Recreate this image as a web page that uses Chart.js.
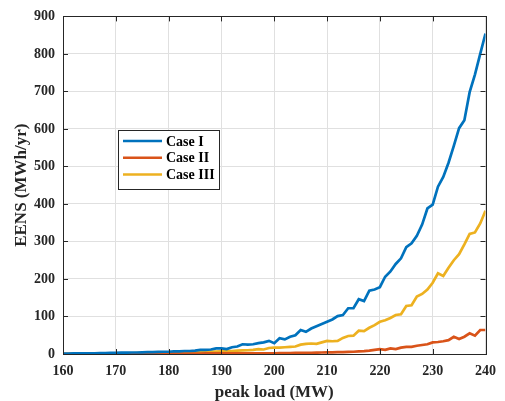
<!DOCTYPE html>
<html>
<head>
<meta charset="utf-8">
<script src="https://cdn.jsdelivr.net/npm/chart.js@4.4.1/dist/chart.umd.min.js"></script>
<style>
html,body{margin:0;padding:0;background:#fff;}
#wrap{width:505px;height:401px;position:relative;}
</style>
</head>
<body>
<div id="wrap"><canvas id="c" width="505" height="401"></canvas></div>
<script>
const peakLoad = [160,161,162,163,164,165,166,167,168,169,170,171,172,173,174,175,176,177,178,179,180,181,182,183,184,185,186,187,188,189,190,191,192,193,194,195,196,197,198,199,200,201,202,203,204,205,206,207,208,209,210,211,212,213,214,215,216,217,218,219,220,221,222,223,224,225,226,227,228,229,230,231,232,233,234,235,236,237,238,239,240];
const caseI = [1,1,1.5,1.5,2,2,2,2.5,2.5,3,3,3.5,3.5,4,4,4.5,5,5,5.5,6,6,7,7,8,8,9,11,11,12,15,15,13,18,20,26,25,26,29,31,35,29,42,39,46,50,64,59,68,74,80,86,92,101,104,122,122,146,141,169,172,178,206,220,240,255,285,295,315,345,388,398,446,472,510,555,602,623,698,745,800,854];
const caseII = [0,0,0,0,0,0.2,0.2,0.3,0.3,0.4,0.5,0.5,0.6,0.6,0.7,0.7,0.8,0.8,0.9,0.9,1,1,1.1,1.2,1.2,1.3,1.3,1.4,1.5,1.5,1.5,1.6,1.7,1.8,1.8,1.9,2,2,2,2,2,2.2,2.4,2.6,2.8,3,3,3.2,3.5,4,4.5,4.5,5,5,5.5,6,7,7.5,9,11,13,11,15,13,17,19,19,22,24,26,31,32,34,37,46,40,46,55,49,64,64];
const caseIII = [0.5,0.5,0.6,0.7,0.8,1,1,1.1,1.2,1.4,1.5,1.7,1.9,2,2.2,2.5,2.7,3,3.3,3.6,4,4.2,4.4,4.6,4.8,5,5.4,5.8,6.2,6.6,7,7.5,8,9,9.5,10,11,13,12,16,17,17,18,19,20,25,27,28,27,31,35,34,35,43,48,49,62,61,70,77,86,90,96,104,106,128,130,153,160,172,190,215,208,230,250,266,292,320,324,348,382];
const seriesNames = ['Case I','Case II','Case III'];
const seriesColors = ['#0072BD','#D95319','#EDB120'];
const xTicks = [160,170,180,190,200,210,220,230,240];
const yTicks = [0,100,200,300,400,500,600,700,800,900];

const FONT = '"Liberation Serif", "Times New Roman", serif';
const axisColor = '#262626';

function pts(arr){ return peakLoad.map((x,i)=>({x:x,y:arr[i]})); }

const boxPlugin = {
  id:'boxTicks',
  afterDatasetsDraw(chart){
    const {ctx, chartArea:a, scales:{x,y}} = chart;
    ctx.save();
    ctx.strokeStyle = axisColor;
    ctx.lineWidth = 1;
    ctx.beginPath();
    const L = 5;
    xTicks.forEach(v=>{
      const px = Math.round(x.getPixelForValue(v))+0.5;
      ctx.moveTo(px, a.bottom); ctx.lineTo(px, a.bottom-L);
      ctx.moveTo(px, a.top); ctx.lineTo(px, a.top+L);
    });
    yTicks.forEach(v=>{
      const py = Math.round(y.getPixelForValue(v))+0.5;
      ctx.moveTo(a.left, py); ctx.lineTo(a.left+L, py);
      ctx.moveTo(a.right, py); ctx.lineTo(a.right-L, py);
    });
    ctx.stroke();
    ctx.strokeRect(Math.round(a.left)+0.5, Math.round(a.top)+0.5, Math.round(a.right-a.left), Math.round(a.bottom-a.top));
    // legend
    const lx = 118, ly = 130, lw = 101, lh = 59;
    ctx.fillStyle = '#fff';
    ctx.fillRect(lx, ly, lw, lh);
    ctx.strokeStyle = '#262626';
    ctx.strokeRect(lx+0.5, ly+0.5, lw, lh);
    ctx.font = 'bold 14px ' + FONT;
    ctx.textBaseline = 'middle';
    ctx.textAlign = 'left';
    chart.data.datasets.forEach((ds,i)=>{
      const yy = ly + 11 + i*16.8;
      ctx.strokeStyle = ds.borderColor;
      ctx.lineWidth = 2.5;
      ctx.beginPath();
      ctx.moveTo(lx+5, yy); ctx.lineTo(lx+44, yy);
      ctx.stroke();
      ctx.fillStyle = '#000';
      ctx.fillText(ds.label, lx+48, yy+1);
    });
    ctx.restore();
  }
};

new Chart(document.getElementById('c'), {
  type:'line',
  data:{
    datasets:[
      {label:seriesNames[0], data:pts(caseI), borderColor:seriesColors[0]},
      {label:seriesNames[1], data:pts(caseII), borderColor:seriesColors[1]},
      {label:seriesNames[2], data:pts(caseIII), borderColor:seriesColors[2]}
    ].map(d=>Object.assign(d,{borderWidth:2.7, pointRadius:0, tension:0, fill:false, backgroundColor:d.borderColor}))
  },
  options:{
    responsive:false,
    animation:false,
    layout:{padding:{left:0,right:13,top:16,bottom:0}},
    plugins:{legend:{display:false}, tooltip:{enabled:false}},
    scales:{
      x:{
        type:'linear', min:160, max:240,
        afterBuildTicks(s){ s.ticks = xTicks.map(v=>({value:v})); },
        afterFit(s){ s.height = 47; },
        grid:{color:'#e0e0e0', drawTicks:false},
        border:{display:false},
        ticks:{padding:9, color:'#262626', font:{family:FONT, size:14, weight:'bold'}, maxRotation:0},
        title:{display:true, text:'peak load (MW)', color:'#262626', padding:{top:1,bottom:0}, font:{family:FONT, size:17, weight:'bold', lineHeight:1}}
      },
      y:{
        type:'linear', min:0, max:900,
        afterBuildTicks(s){ s.ticks = yTicks.map(v=>({value:v})); },
        afterFit(s){ s.width = 63; },
        grid:{color:'#e0e0e0', drawTicks:false},
        border:{display:false},
        ticks:{padding:8, color:'#262626', font:{family:FONT, size:14, weight:'bold'}},
        title:{display:true, text:'EENS (MWh/yr)', color:'#262626', padding:{top:13,bottom:0}, font:{family:FONT, size:17, weight:'bold', lineHeight:1}}
      }
    }
  },
  plugins:[boxPlugin]
});
</script>
</body>
</html>
